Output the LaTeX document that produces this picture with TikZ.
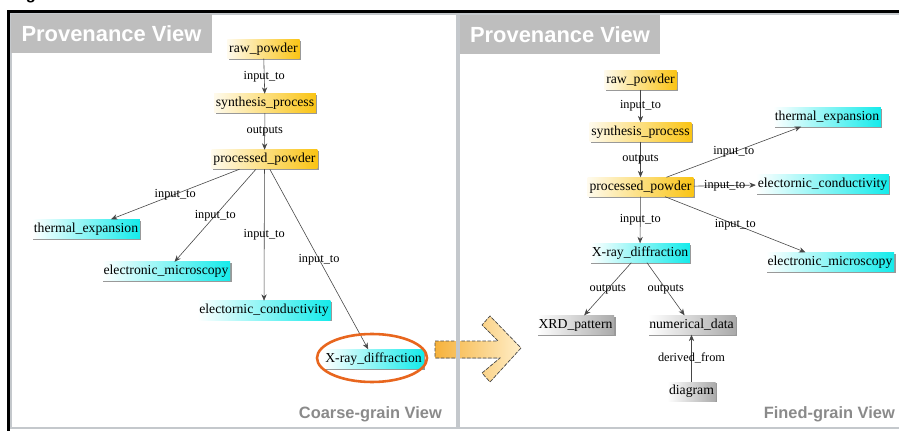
\documentclass[tikz,border=0pt]{standalone}
\usepackage{fontspec}
\setmainfont{Liberation Serif}
\setsansfont{Liberation Sans}
\usetikzlibrary{arrows.meta,shadows}
\definecolor{nodegold}{RGB}{250,196,20}
\definecolor{nodecyan}{RGB}{20,235,235}
\definecolor{nodegray}{RGB}{170,170,170}
\definecolor{headgray}{RGB}{190,190,190}
\definecolor{panelgray}{RGB}{196,200,204}
\definecolor{footgray}{RGB}{138,138,138}
\definecolor{ringorange}{RGB}{232,102,30}
\definecolor{arrowgold}{RGB}{246,178,60}
\definecolor{arrowpale}{RGB}{255,238,200}
\definecolor{edgegray}{RGB}{70,70,70}
\begin{document}
\begin{tikzpicture}[x=0.03cm,y=-0.03cm,
        item/.style={inner xsep=1.5pt,inner ysep=0pt,minimum height=0.57cm,
            font=\fontsize{11.7}{13}\selectfont,
            drop shadow={shadow xshift=1.2pt,shadow yshift=-1.2pt,fill=gray,opacity=0.8}},
        goldbox/.style={item,left color=nodegold!8,right color=nodegold},
        cyanbox/.style={item,left color=white,right color=nodecyan},
        graybox/.style={item,left color=white,right color=nodegray},
        rel/.style={draw=edgegray,line width=0.5pt,-{Stealth[length=5.5pt,width=4.5pt]}},
        lbl/.style={font=\fontsize{10.5}{12}\selectfont,inner sep=0pt},
        head/.style={fill=headgray,text=white,
            font=\sffamily\bfseries\fontsize{18.7}{20}\selectfont,
            minimum width=6.03cm,minimum height=1.17cm,inner sep=0pt},
        foot/.style={text=footgray,font=\sffamily\bfseries\fontsize{14}{16}\selectfont,
            inner sep=0pt}]
    \useasboundingbox (0,0) rectangle (899,431);
    \fill[white] (0,0) rectangle (899,431);
    \fill[left color=arrowgold,right color=arrowpale]
        (435,341) -- (498,341) -- (482,325) -- (490,316) -- (521,348)
        -- (490,382) -- (482,373) -- (500,358) -- (435,358) -- cycle;
    \draw[gray!60!black,dash pattern=on 3pt off 1.5pt,line width=0.6pt]
        (435,341) -- (498,341) -- (482,325) -- (490,316) -- (521,348)
        -- (490,382) -- (482,373) -- (500,358) -- (435,358) -- cycle;
    \draw[panelgray,line width=1.2pt] (11,14) rectangle (457,428);
    \draw[panelgray,line width=1.2pt] (459,14) rectangle (905,428);
    \draw[line width=2.8pt] (8.3,440) -- (8.3,11.7) -- (905,11.7);
    \node[font=\sffamily\bfseries\fontsize{14}{14}\selectfont,anchor=base,inner sep=0pt]
        (figg) at (31,0) {g};
    \node[head] (lhead) at (111.5,33.5) {Provenance View};
    \node[head,minimum width=6cm] (rhead) at (560,34.5) {Provenance View};
    \node[foot,anchor=base east] (lfoot) at (442,418) {Coarse-grain View};
    \node[foot,anchor=base east] (rfoot) at (895,418) {Fined-grain View};

    \node[goldbox] (lraw) at (263.5,49) {raw\_powder};
    \node[goldbox] (lsyn) at (265,103.5) {synthesis\_process};
    \node[goldbox] (lpp) at (264.5,159.5) {processed\_powder};
    \node[cyanbox] (lte) at (86,229) {thermal\_expansion};
    \node[cyanbox] (lem) at (166,271.5) {electronic\_microscopy};
    \node[cyanbox] (lec) at (264,310.5) {electornic\_conductivity};
    \node[cyanbox] (lxrd) at (373.5,359) {X-ray\_diffraction};
    \draw[rel] (lraw) -- node[lbl] {input\_to} (lsyn);
    \draw[rel] (lsyn) -- node[lbl] {outputs} (lpp);
    \draw[rel] (lpp) -- node[lbl] {input\_to} (lte);
    \draw[rel] (lpp) -- node[lbl] {input\_to} (lem);
    \draw[rel] (lpp) -- node[lbl] {input\_to} (lec);
    \draw[rel] (lpp) -- node[lbl] {input\_to} (lxrd);
    \draw[ringorange,line width=2.2pt] (372,358) ellipse [x radius=1.65cm,y radius=0.72cm];

    \node[goldbox] (rraw) at (640.5,80) {raw\_powder};
    \node[goldbox] (rsyn) at (640.5,132) {synthesis\_process};
    \node[goldbox] (rpp) at (640.5,187) {processed\_powder};
    \node[cyanbox] (rte) at (827,117) {thermal\_expansion};
    \node[cyanbox] (rec) at (822.5,184) {electornic\_conductivity};
    \node[cyanbox] (rem) at (830,262) {electronic\_microscopy};
    \node[cyanbox] (rxrd) at (640,253) {X-ray\_diffraction};
    \node[graybox] (rpat) at (575.5,325) {XRD\_pattern};
    \node[graybox] (rnum) at (691.5,325) {numerical\_data};
    \node[graybox] (rdia) at (691.5,391.5) {diagram};
    \draw[rel] (rraw) -- node[lbl] {input\_to} (rsyn);
    \draw[rel] (rsyn) -- node[lbl] {outputs} (rpp);
    \draw[rel] (rpp) -- node[lbl] {input\_to} (rte);
    \draw[rel] (rpp) -- node[lbl] {input\_to} (rec);
    \draw[rel] (rpp) -- node[lbl] {input\_to} (rem);
    \draw[rel] (rpp) -- node[lbl] {input\_to} (rxrd);
    \draw[rel] (rxrd) -- node[lbl] {outputs} (rpat);
    \draw[rel] (rxrd) -- node[lbl] {outputs} (rnum);
    \draw[rel] (rdia) -- node[lbl] {derived\_from} (rnum);
\end{tikzpicture}
\end{document}
